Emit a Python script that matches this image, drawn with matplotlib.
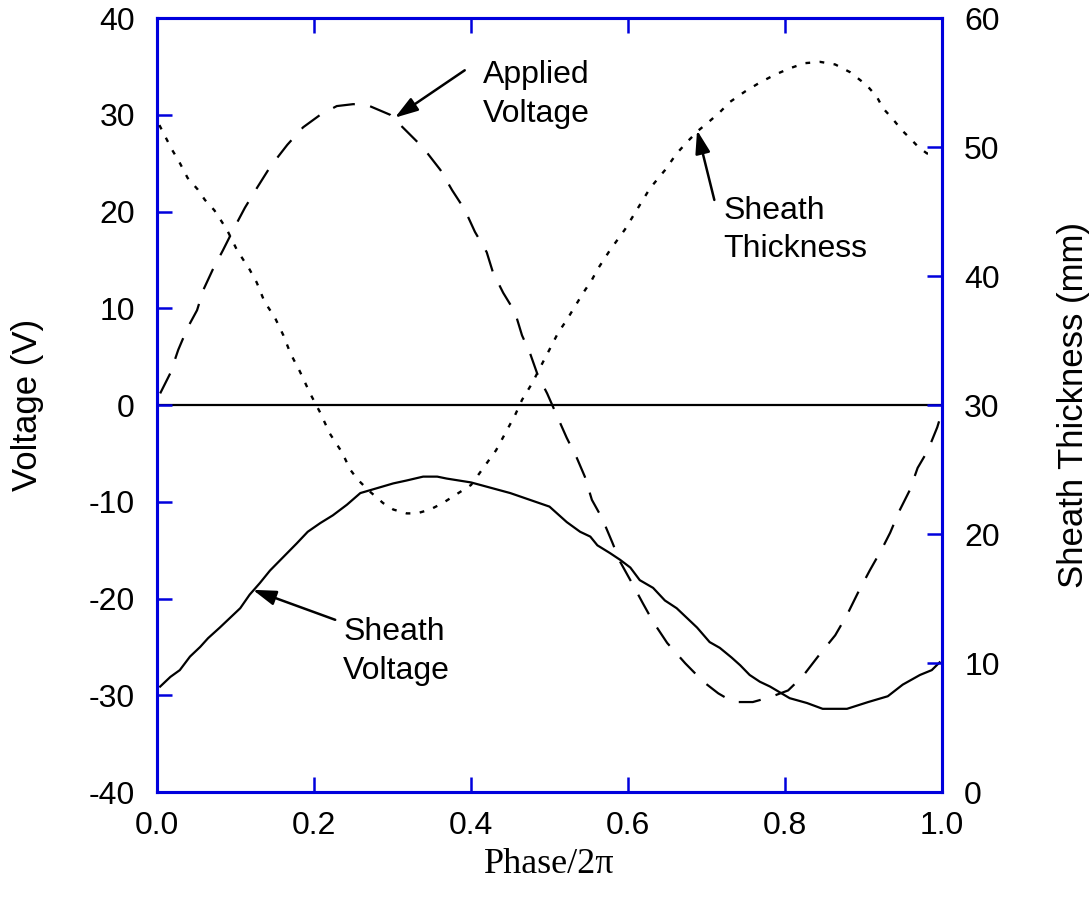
import matplotlib
matplotlib.use("Agg")
import matplotlib.pyplot as plt

# ---- data ----
applied_phase = [0.004, 0.017, 0.027, 0.039, 0.051, 0.059, 0.071, 0.084, 0.097, 0.112,
                 0.127, 0.144, 0.166, 0.186, 0.208, 0.229, 0.250, 0.268, 0.297, 0.339,
                 0.361, 0.376, 0.392, 0.405, 0.420, 0.428, 0.441, 0.456, 0.465, 0.475,
                 0.485, 0.497, 0.510, 0.522, 0.535, 0.545, 0.554, 0.567, 0.580, 0.590,
                 0.603, 0.619, 0.632, 0.650, 0.673, 0.696, 0.715, 0.734, 0.759, 0.781,
                 0.804, 0.823, 0.842, 0.864, 0.879, 0.893, 0.908, 0.924, 0.934, 0.946,
                 0.959, 0.969, 0.982, 0.994, 1.000]
applied_volt = [1.2, 3.3, 5.7, 8.0, 9.8, 11.9, 14.0, 16.0, 18.1, 20.4,
                22.4, 24.6, 26.9, 28.7, 30.0, 30.9, 31.1, 31.0, 30.0, 26.6,
                24.3, 22.2, 20.2, 17.9, 15.8, 13.7, 11.6, 9.6, 7.2, 5.4,
                3.1, 1.2, -1.2, -3.4, -5.5, -7.4, -9.8, -11.7, -14.2, -16.2,
                -18.1, -20.5, -22.4, -24.6, -26.7, -28.6, -29.8, -30.7, -30.7, -30.2,
                -29.5, -28.0, -26.0, -23.8, -21.7, -19.4, -17.1, -14.8, -13.2, -10.9,
                -8.8, -6.5, -4.7, -2.3, -0.7]

sheath_v_phase = [0.004, 0.017, 0.029, 0.042, 0.055, 0.065, 0.080, 0.093, 0.106, 0.118,
                  0.131, 0.144, 0.161, 0.178, 0.192, 0.208, 0.224, 0.242, 0.259, 0.280,
                  0.301, 0.318, 0.339, 0.357, 0.369, 0.400, 0.450, 0.500, 0.522, 0.539,
                  0.552, 0.561, 0.577, 0.590, 0.603, 0.615, 0.632, 0.647, 0.662, 0.675,
                  0.688, 0.704, 0.717, 0.732, 0.743, 0.755, 0.768, 0.781, 0.806, 0.828,
                  0.848, 0.879, 0.906, 0.931, 0.950, 0.972, 0.987, 0.997]
sheath_volt = [-29.1, -28.1, -27.4, -26.0, -25.0, -24.1, -23.0, -22.0, -21.0, -19.6,
               -18.4, -17.1, -15.7, -14.3, -13.1, -12.2, -11.4, -10.3, -9.1, -8.6,
               -8.1, -7.8, -7.4, -7.4, -7.6, -8.0, -9.1, -10.5, -12.1, -13.1,
               -13.6, -14.5, -15.3, -16.0, -16.8, -18.1, -18.9, -20.2, -21.0, -22.0,
               -23.0, -24.5, -25.1, -26.1, -26.9, -27.9, -28.6, -29.1, -30.3, -30.8,
               -31.4, -31.4, -30.7, -30.1, -28.9, -27.9, -27.4, -26.6]

thick_phase = [0.003, 0.019, 0.027, 0.039, 0.052, 0.061, 0.073, 0.089, 0.102, 0.118,
               0.127, 0.137, 0.150, 0.161, 0.170, 0.182, 0.195, 0.208, 0.220, 0.236,
               0.246, 0.256, 0.271, 0.288, 0.301, 0.318, 0.331, 0.348, 0.364, 0.400,
               0.432, 0.456, 0.465, 0.478, 0.488, 0.500, 0.511, 0.522, 0.532, 0.543,
               0.554, 0.561, 0.577, 0.596, 0.613, 0.628, 0.647, 0.662, 0.677, 0.690,
               0.702, 0.717, 0.730, 0.749, 0.768, 0.787, 0.806, 0.825, 0.845, 0.864,
               0.883, 0.904, 0.917, 0.925, 0.937, 0.949, 0.959, 0.970, 0.981, 0.993]
thick_mm = [51.7, 49.8, 49.0, 47.6, 46.7, 45.9, 45.1, 43.6, 42.0, 40.5,
            39.5, 38.0, 36.8, 35.4, 34.0, 32.6, 30.9, 29.4, 27.8, 26.3,
            25.0, 24.2, 23.3, 22.4, 21.9, 21.6, 21.6, 21.9, 22.4, 23.8,
            26.5, 29.2, 30.4, 31.7, 32.9, 34.3, 35.6, 36.6, 37.6, 38.7,
            39.7, 40.5, 42.0, 43.6, 45.3, 46.8, 48.2, 49.5, 50.5, 51.3,
            51.9, 52.7, 53.5, 54.3, 55.0, 55.6, 56.1, 56.5, 56.6, 56.4,
            55.8, 54.8, 53.9, 53.0, 52.2, 51.3, 50.7, 50.0, 49.5, 49.5]

x_ticks = [0.0, 0.2, 0.4, 0.6, 0.8, 1.0]
x_tick_labels = ["0.0", "0.2", "0.4", "0.6", "0.8", "1.0"]
v_ticks = [-40, -30, -20, -10, 0, 10, 20, 30, 40]
t_ticks = [0, 10, 20, 30, 40, 50, 60]

# ---- style ----
plt.rcParams['font.family'] = ['Liberation Sans', 'DejaVu Sans']
plt.rcParams['axes.unicode_minus'] = False
BLUE = '#0000DD'
FS = 23
LFS = 25

fig = plt.figure(figsize=(10.92, 9.11), dpi=100)
ax = fig.add_axes([0.1438, 0.1306, 0.8626 - 0.1438, 0.9802 - 0.1306])
ax2 = ax.twinx()

ax.axhline(0, color='black', lw=1.6, zorder=1)
ax.plot(applied_phase, applied_volt, color='black', lw=1.6,
        linestyle=(0, (10, 7)), zorder=3)
ax.plot(sheath_v_phase, sheath_volt, color='black', lw=1.6, zorder=3)
ax2.plot(thick_phase, thick_mm, color='black', lw=1.7,
         linestyle=(0, (2, 4)), zorder=3)

ax.set_xlim(0, 1)
ax.set_ylim(-40, 40)
ax2.set_ylim(0, 60)
ax.set_xticks(x_ticks)
ax.set_xticklabels(x_tick_labels)
ax.set_yticks(v_ticks)
ax2.set_yticks(t_ticks)

for a in (ax, ax2):
    for s in a.spines.values():
        s.set_color(BLUE)
        s.set_linewidth(2.2)
ax.tick_params(axis='both', direction='in', length=11, width=1.8, color=BLUE,
               labelsize=FS, labelcolor='black', pad=16, top=True)
ax.tick_params(axis='x', pad=14)
ax2.tick_params(axis='y', direction='in', length=11, width=1.8, color=BLUE,
                labelsize=FS, labelcolor='black', pad=16)

ax.set_xlabel("Phase/2\u03c0", fontsize=26, family=['Liberation Serif', 'DejaVu Serif'])
ax.xaxis.set_label_coords(0.5, -0.072)
ax.set_ylabel("Voltage (V)", fontsize=LFS)
ax.yaxis.set_label_coords(-0.144, 0.5)
ax2.set_ylabel("Sheath Thickness (mm)", fontsize=LFS)
ax2.yaxis.set_label_coords(1.146, 0.5)

arrow = dict(arrowstyle='-|>,head_length=1.4,head_width=0.45', color='black',
             lw=1.8, shrinkA=0, shrinkB=0)
ax.annotate("", xy=(0.303, 29.7), xytext=(0.392, 34.6), arrowprops=arrow)
ax.text(0.415, 32.1, "Applied\nVoltage", fontsize=FS, ha='left', va='center',
        linespacing=1.38)
ax.annotate("", xy=(0.688, 28.4), xytext=(0.710, 21.2), arrowprops=arrow)
ax.text(0.722, 18.1, "Sheath\nThickness", fontsize=FS, ha='left', va='center',
        linespacing=1.38)
ax.annotate("", xy=(0.122, -19.1), xytext=(0.227, -22.2), arrowprops=arrow)
ax.text(0.237, -25.5, "Sheath\nVoltage", fontsize=FS, ha='left', va='center',
        linespacing=1.38)

fig.savefig("out.png", dpi=100)
